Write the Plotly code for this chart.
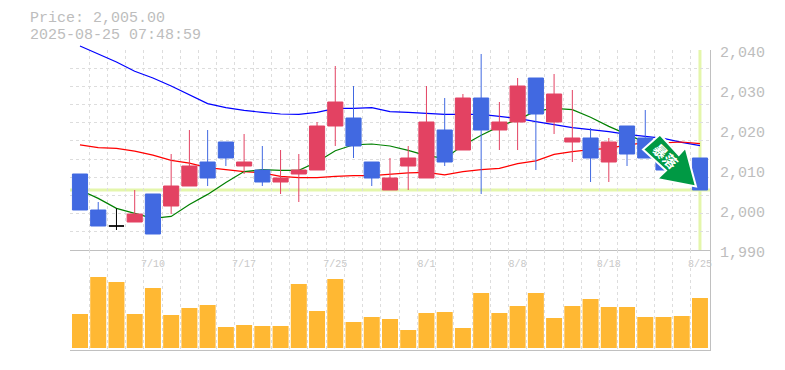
import plotly.graph_objects as go

last_price = 2005
price_label = "Price: 2,005.00"
time_label = "2025-08-25 07:48:59"

index = list(range(35))
opens = [2009,2000,1996,1997,2004,2001,2006,2012,2017,2011,2010,2007,2009,2010,2021,2023,2012,2005,2011,2008,2020,2015,2028,2020,2022,2033,2022,2017,2018,2012,2021,2018,2016,2010,2013]
closes = [2000,1996,1996,1999,1994,2006,2011,2008,2013,2012,2007,2008,2010,2021,2027,2016,2008,2008,2013,2022,2012,2028,2020,2022,2031,2024,2029,2018,2013,2017,2014,2013,2010,2008,2005]
highs = [2009,2002,2000.4,2005,2004,2014,2020,2020,2017,2019,2016,2015,2014,2022,2036,2031,2012,2013,2016,2031,2028,2029,2039,2027,2033,2033,2034,2030,2020.5,2018,2021,2025,2016,2010,2013]
lows = [2000,1996,1995,1997,1994,1999,2006,2006,2011,2009,2006,2004,2002,2010,2016,2013,2006,2005,2005,2008,2011,2015,2004,2015,2015,2010,2019,2012,2007,2007,2011,2013,2010,2008,2005]
ma_long = [2041,2039,2037,2034.7,2033,2031,2028.7,2026.6,2025.6,2024.9,2024.4,2024,2023.9,2024.4,2025.4,2025.4,2025.6,2024.6,2024.4,2024.1,2023.9,2023.9,2023.9,2023.4,2022.9,2022.1,2021.4,2020.6,2020.1,2019.6,2018.9,2018.4,2017.9,2016.9,2016.1]
ma_mid = [2016.3,2015.6,2015.4,2014.7,2013.7,2012.4,2011.7,2010.6,2010.1,2009.6,2009.3,2008.4,2008.1,2008.1,2008.4,2008.6,2008.6,2008.9,2009.3,2009.4,2008.8,2009.6,2010.1,2010.4,2011.6,2012.3,2013.9,2014.6,2015.1,2015.4,2016.3,2016.8,2016.8,2017,2016.6]
ma_short = [2005,2002.9,2000.4,1999.1,1997.9,1998.4,2001.4,2003.9,2006.9,2009.6,2010.1,2009.9,2009.9,2012,2014.8,2016.3,2016.5,2016,2014.9,2013.6,2012.9,2016.1,2018.7,2020.9,2022.6,2024.7,2025.4,2025.1,2023.2,2020.9,2018.9,2016.9]
volumes = [34,71,66,34,60,33,40,43,21,23,22,22,64,37,69,26,31,29,18,35,36,20,55,35,42,55,30,42,49,41,41,31,31,32,50]
tick_index = [4,9,14,19,24,29,34]
tick_dates = ["7/10","7/17","7/25","8/1","8/8","8/18","8/25"]
price_ticks = [1990,2000,2010,2020,2030,2040]
arrow_label = "暴落"

FONT = "Liberation Mono"
GRID = "#dddddd"
AXIS = "#c0c0c0"
TEXT = "#bdbdbd"
RED = "#e34262"
BLUE = "#4169e1"
LIME = "#e4f6ab"
XR = [-0.548, 34.55]
YR = [1990, 2040]
YR_TALL = [1990, 2042.5]   # lines may rise 10px above the grid
W, H = 777, 362            # the page adds an 8px body margin
PLOT_H = 310.0

fig = go.Figure()
# moving averages on their own taller axis, under the candles
for vals, col in ((ma_long, "#0000ff"), (ma_mid, "#ff0000"), (ma_short, "#008000")):
    fig.add_trace(go.Scatter(x=index[:len(vals)], y=vals, mode="lines", line=dict(color=col, width=1.2),
                             xaxis="x3", yaxis="y3", hoverinfo="skip"))

plain = [i for i in index if opens[i] != closes[i]]
fig.add_trace(go.Candlestick(x=plain, open=[opens[i] for i in plain], high=[highs[i] for i in plain],
                             low=[lows[i] for i in plain], close=[closes[i] for i in plain],
                             increasing=dict(line=dict(color=RED, width=1), fillcolor=RED),
                             decreasing=dict(line=dict(color=BLUE, width=1), fillcolor=BLUE),
                             whiskerwidth=0, xaxis="x3", yaxis="y4"))
doji = [i for i in index if opens[i] == closes[i]]
fig.add_trace(go.Candlestick(x=doji, open=[opens[i] for i in doji], high=[highs[i] for i in doji],
                             low=[lows[i] for i in doji], close=[closes[i] for i in doji],
                             increasing=dict(line=dict(color="#000000", width=1), fillcolor="#000000"),
                             decreasing=dict(line=dict(color="#000000", width=1), fillcolor="#000000"),
                             whiskerwidth=0, xaxis="x3", yaxis="y4"))
fig.add_trace(go.Bar(x=index, y=volumes, marker=dict(color="#ffb833", line_width=0), xaxis="x2", yaxis="y2"))
# empty trace so the grid subplot exists
fig.add_trace(go.Scatter(x=[], y=[], xaxis="x", yaxis="y", hoverinfo="skip"))

minor_x = dict(dtick=1, tick0=-0.5, showgrid=True, gridcolor=GRID, griddash="3px,3px", gridwidth=1, ticklen=0)
dom_vol = [0, 100 / PLOT_H]
dom_price = [100 / PLOT_H, 300 / PLOT_H]
dom_tall = [100 / PLOT_H, 1]
fig.update_layout(
    width=W, height=H, autosize=False, showlegend=False,
    margin=dict(l=62, r=75, t=32, b=20, autoexpand=False),
    paper_bgcolor="white", plot_bgcolor="rgba(0,0,0,0)",
    boxgap=0.17, boxgroupgap=0, bargap=0.123,
    font=dict(family=FONT, color=TEXT, size=15),
    xaxis=dict(domain=[0, 1], range=XR, anchor="y", tickmode="array",
               tickvals=tick_index, ticktext=tick_dates, showgrid=False, minor=minor_x, zeroline=False,
               showline=True, linecolor=AXIS, linewidth=1, ticks="", ticklabelstandoff=4, tickangle=0,
               tickfont=dict(family=FONT, size=10, color="#c8c8c8")),
    xaxis2=dict(domain=[0, 1], range=XR, anchor="y2", showticklabels=False, showgrid=False, minor=minor_x,
                zeroline=False, showline=True, linecolor=AXIS, linewidth=1, ticks="",
                tickmode="array", tickvals=tick_index),
    xaxis3=dict(domain=[0, 1], range=XR, anchor="y3", visible=False, rangeslider=dict(visible=False)),
    yaxis=dict(domain=dom_price, range=YR, side="right", anchor="x", tickmode="array",
               tickvals=price_ticks, tickformat=",d", showgrid=False, zeroline=False,
               minor=dict(dtick=50 / 11, tick0=1990, showgrid=True, gridcolor=GRID, griddash="3px,3px", ticklen=0),
               showline=True, linecolor=AXIS, linewidth=1, ticks="outside", ticklen=6,
               tickcolor="rgba(0,0,0,0)", ticklabelshift=2,
               tickfont=dict(family=FONT, size=15, color=TEXT)),
    yaxis2=dict(domain=dom_vol, range=[-2, 98], side="right", anchor="x2", showticklabels=False,
                showgrid=False, zeroline=False, showline=True, linecolor=AXIS, linewidth=1, ticks=""),
    yaxis3=dict(domain=dom_tall, range=YR_TALL, anchor="x3", visible=False),
    yaxis4=dict(overlaying="y3", range=YR_TALL, anchor="x3", visible=False),
)
fig.add_shape(type="line", xref="x", yref="y", x0=XR[0], x1=XR[1], y0=last_price, y1=last_price,
              line=dict(color=LIME, width=3), layer="below")
fig.add_shape(type="line", xref="x", yref="y", x0=index[-1], x1=index[-1], y0=YR[0], y1=YR[1],
              line=dict(color=LIME, width=3), layer="below")

arrow_pts = [(660, 134.5), (643, 149.5), (666, 170.5), (657, 179), (696, 186.5), (685.5, 147.5), (678.8, 155)]
# paper coords are relative to the plot area, so convert page pixels accordingly
def page(x, y):
    return f"{(x - 70) / 640:.5f},{(350 - y) / PLOT_H:.5f}"
path = "M" + " L".join(page(x, y) for x, y in arrow_pts) + " Z"
fig.add_shape(type="path", xref="paper", yref="paper", path=path, fillcolor="#009944",
              line=dict(color="white", width=2), layer="above")
fig.add_annotation(xref="paper", yref="paper", x=(666 - 70) / 640, y=(350 - 155.5) / PLOT_H, text=arrow_label,
                   textangle=45, showarrow=False, xanchor="center", yanchor="middle",
                   font=dict(family="Noto Sans CJK JP", size=14, color="white", weight="bold"))
for txt, yy in ((price_label, 18.5), (time_label, 35.5)):
    fig.add_annotation(xref="paper", yref="paper", x=(28 - 70) / 640, y=(350 - yy) / PLOT_H, text=txt,
                       showarrow=False, xanchor="left", yanchor="middle",
                       font=dict(family=FONT, size=15, color=TEXT))
fig.write_html("out.html")
